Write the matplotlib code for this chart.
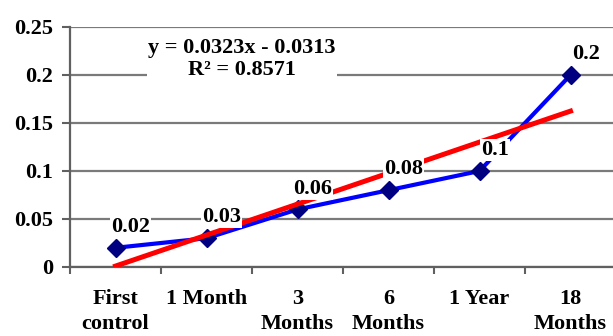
import matplotlib
import matplotlib.pyplot as plt
import numpy as np

matplotlib.use("Agg")

# Data
categories = ["First\ncontrol", "1 Month", "3\nMonths", "6\nMonths", "1 Year", "18\nMonths"]
values = [0.02, 0.03, 0.06, 0.08, 0.1, 0.2]
value_labels = ["0.02", "0.03", "0.06", "0.08", "0.1", "0.2"]
y_ticks = [0, 0.05, 0.1, 0.15, 0.2, 0.25]
y_tick_labels = ["0", "0.05", "0.1", "0.15", "0.2", "0.25"]

plt.rcParams["font.family"] = ["Liberation Serif", "DejaVu Serif"]
plt.rcParams["font.weight"] = "bold"
FS = 16

fig = plt.figure(figsize=(6.13, 3.36), dpi=100)
ax = fig.add_axes([70 / 613, 69 / 336, 546 / 613, 240 / 336])

x = np.arange(1, len(values) + 1)

# Linear trendline fitted on the series
slope, intercept = np.polyfit(x, values, 1)
r2 = np.corrcoef(x, values)[0, 1] ** 2

ax.plot(x, values, color="#0000ff", linewidth=3.0, zorder=3,
        marker="D", markersize=9, markerfacecolor="#000080",
        markeredgecolor="#000080")
ax.plot(x, slope * x + intercept, color="#ff0000", linewidth=3.6, zorder=4)

# Data labels with white boxes
for xi, yi, lab in zip(x, values, value_labels):
    ax.annotate(lab, (xi, yi), xytext=(11, 15), textcoords="offset points",
                ha="center", va="center", fontsize=FS, fontweight="bold",
                zorder=6,
                bbox=dict(boxstyle="square,pad=0.05", fc="white", ec="none"))

# Trendline equation
eq = f"y = {slope:.4f}x - {abs(intercept):.4f}\nR\u00b2 = {r2:.4f}"
fig.text(242 / 613, 1 - 59 / 336, eq, ha="center", va="center",
         fontsize=FS, fontweight="bold", linespacing=1.15, zorder=6,
         bbox=dict(boxstyle="square,pad=0.05", fc="white", ec="none"))

ax.set_xlim(0.5, len(values) + 0.5)
ax.set_ylim(0, 0.25)
ax.set_yticks(y_ticks)
ax.set_yticklabels(y_tick_labels, fontsize=FS, fontweight="bold")
ax.set_xticks(x)
ax.set_xticklabels(categories, fontsize=FS, fontweight="bold", linespacing=1.3)
ax.set_xticks(np.arange(0.5, len(values) + 0.6, 1), minor=True)
ax.tick_params(axis="x", which="major", length=0, pad=16)
ax.tick_params(axis="x", which="minor", length=5, width=1.5, color="#606060")
ax.tick_params(axis="y", length=6, width=1.5, color="#606060", pad=6)

ax.yaxis.grid(True, color="#7a7a7a", linewidth=1.6, zorder=0)
ax.set_axisbelow(True)
for side in ["top", "right"]:
    ax.spines[side].set_visible(False)
for side in ["left", "bottom"]:
    ax.spines[side].set_color("#606060")
    ax.spines[side].set_linewidth(1.6)

fig.savefig("out.png", dpi=100)
plt.close(fig)
